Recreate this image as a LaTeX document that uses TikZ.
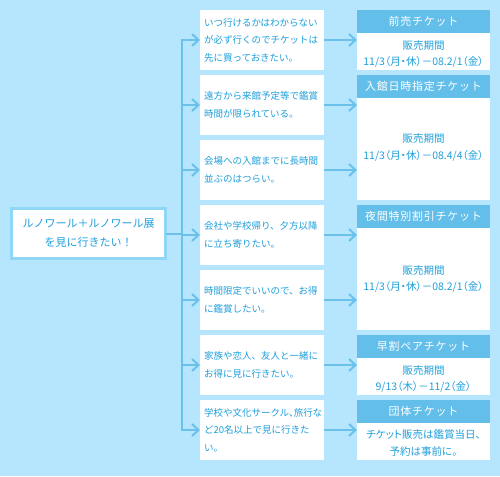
\documentclass[tikz,border=0pt]{standalone}
\usepackage{fontspec}
\newfontfamily\jp{Noto Sans CJK JP}
\newfontfamily\jpp[RawFeature=+palt]{Noto Sans CJK JP}
\newfontfamily\jph[LetterSpace=7]{Noto Sans CJK JP}
\usetikzlibrary{arrows.meta}
\definecolor{bg}{HTML}{B5E6FD}
\definecolor{hdrc}{HTML}{63BEEA}
\definecolor{linec}{HTML}{6BC1EA}
\definecolor{txt}{HTML}{1E9FDB}
\definecolor{mainb}{HTML}{8FD6F7}
\tikzset{
  conn/.style={draw=linec, line width=2pt},
  arr/.style={-{Straight Barb[length=6.5pt,width=12pt]}},
  mid/.style={fill=white, anchor=north west, minimum height=60pt, text width=116pt,
    inner xsep=4pt, inner ysep=0pt, outer sep=0pt, align=left, text=txt,
    font=\jp\fontsize{9.5}{17.5}\selectfont},
  hdr/.style={fill=hdrc, anchor=north west, minimum width=133pt, minimum height=23pt,
    inner sep=0pt, outer sep=0pt, text=white, font=\jph\fontsize{11}{13}\selectfont},
  bodyr/.style={fill=white, anchor=north west, minimum width=133pt, inner sep=0pt,
    outer sep=0pt},
  btext/.style={align=center, text=txt, font=\jpp\fontsize{10.5}{16.5}\selectfont, inner sep=0pt},
  mainbox/.style={draw=mainb, line width=3pt, fill=white, minimum width=154pt,
    minimum height=50pt, inner sep=0pt, outer sep=0pt, align=center, text=txt,
    font=\jp\fontsize{11}{19}\selectfont}
}
\begin{document}
\begin{tikzpicture}[x=1pt,y=-1pt]
\fill[bg] (0,0) rectangle (500,476);
\useasboundingbox (0,0) rectangle (500,476);

% main node
\node[mainbox] (main) at (88.5,233.5) {ルノワール＋ルノワール展\\を見に行きたい！};

% middle nodes
\node[mid] (m1) at (200,10) {いつ行けるかはわからない\\が必ず行くのでチケットは\\先に買っておきたい。};
\node[mid] (m2) at (200,75) {遠方から来館予定等で鑑賞\\時間が限られている。};
\node[mid] (m3) at (200,140) {会場への入館までに長時間\\並ぶのはつらい。};
\node[mid] (m4) at (200,205) {会社や学校帰り、夕方以降\\に立ち寄りたい。};
\node[mid] (m5) at (200,270) {時間限定でいいので、お得\\に鑑賞したい。};
\node[mid] (m6) at (200,335) {家族や恋人、友人と一緒に\\お得に見に行きたい。};
\node[mid] (m7) at (200,400) {学校や文化サークル{\jpp 、}旅行な\\ど20名以上で見に行きた\\い。};

% right nodes (header + body)
\node[hdr] (h1) at (357,10) {前売チケット};
\node[bodyr, minimum height=37pt] (r1) at (357,33) {};
\node[btext] (t1) at ([yshift=-2.5pt]r1.center) {販売期間\\11/3（月・休）－08.2/1（金）};
\node[hdr] (h2) at (357,75) {入館日時指定チケット};
\node[bodyr, minimum height=102pt] (r2) at (357,98) {};
\node[btext] (t2) at ([yshift=1.5pt]r2.center) {販売期間\\11/3（月・休）－08.4/4（金）};
\node[hdr] (h3) at (357,205) {夜間特別割引チケット};
\node[bodyr, minimum height=102pt] (r3) at (357,228) {};
\node[btext] (t3) at (r3.center) {販売期間\\11/3（月・休）－08.2/1（金）};
\node[hdr] (h4) at (357,335) {早割ペアチケット};
\node[bodyr, minimum height=37pt] (r4) at (357,358) {};
\node[btext] (t4) at ([yshift=-2.5pt]r4.center) {販売期間\\9/13（木）－11/2（金）};
\node[hdr] (h5) at (357,400) {団体チケット};
\node[bodyr, minimum height=37pt] (r5) at (357,423) {};
\node[btext] (t5) at ([yshift=-1.5pt]r5.center) {チケット販売は鑑賞当日、\\予約は事前に。};

% trunk
\coordinate (tt) at (182,40);
\draw[conn] (main.east) -- (main.east -| tt);
\draw[conn, line cap=rect] (m1.west -| tt) -- (m7.west -| tt);
\foreach \m in {m1,m2,m3,m4,m5,m6,m7}{
  \draw[conn,arr] (\m.west -| tt) -- (\m.west);
}
% to tickets
\draw[conn,arr] (m1.east) -- (m1.east -| r1.west);
\draw[conn,arr] (m2.east) -- (m2.east -| r2.west);
\draw[conn,arr] (m3.east) -- (m3.east -| r2.west);
\draw[conn,arr] (m4.east) -- (m4.east -| r3.west);
\draw[conn,arr] (m5.east) -- (m5.east -| r3.west);
\draw[conn,arr] (m6.east) -- (m6.east -| r4.west);
\draw[conn,arr] (m7.east) -- (m7.east -| r5.west);
\end{tikzpicture}
\end{document}
